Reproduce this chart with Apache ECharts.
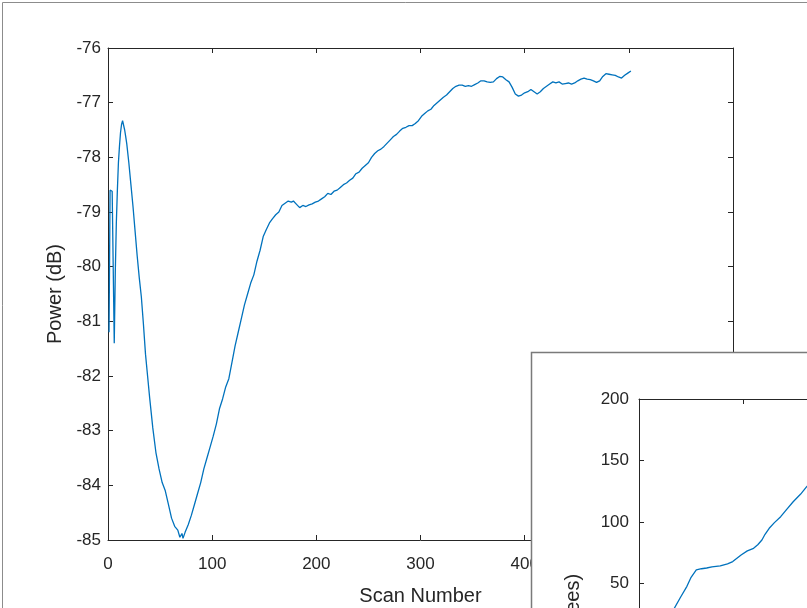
<!DOCTYPE html>
<html>
<head>
<meta charset="utf-8">
<script src="https://cdn.jsdelivr.net/npm/echarts@6/dist/echarts.min.js"></script>
<style>
  html, body { margin: 0; padding: 0; background: #fff; }
  #chart { width: 807px; height: 608px; }
</style>
</head>
<body>
<div id="chart"></div>
<script>
// main figure: received power per scan
const scanNumbers = [
  1, 2, 3, 4, 5, 6, 7, 8, 9, 10, 11, 12, 13, 14, 15, 16, 17, 18, 20, 22, 24, 26, 28, 30, 32, 34, 36, 38, 40,
  43, 46, 49, 52, 55, 58, 61, 64, 67, 69, 71, 72, 74, 77, 80, 83, 86, 89, 92, 95, 98, 101, 104, 107, 110,
  113, 116, 119, 122, 125, 128, 131, 134, 137, 140, 143, 146, 149, 152, 155, 158, 161, 164, 167, 170, 173,
  176, 178, 181, 184, 187, 190, 193, 196, 199, 202, 205, 208, 211, 214, 217, 220, 223, 226, 229, 232, 235,
  238, 241, 244, 247, 250, 253, 256, 259, 262, 265, 268, 271, 274, 277, 280, 283, 286, 289, 292, 295, 298,
  301, 304, 307, 310, 313, 316, 319, 322, 325, 328, 331, 334, 337, 340, 343, 346, 349, 352, 355, 358, 361,
  364, 367, 370, 373, 376, 379, 382, 385, 388, 391, 394, 397, 400, 403, 406, 409, 412, 415, 418, 421, 424,
  427, 430, 433, 436, 439, 442, 445, 448, 451, 454, 457, 460, 463, 466, 469, 472, 475, 478, 481, 484, 487,
  490, 493, 496, 499, 502
];
const powerDb = [
  -81.2, -78.6, -78.6, -78.62, -78.6, -81.4, -80.1, -79.2, -78.6, -78.1, -77.8, -77.55, -77.4, -77.33,
  -77.35, -77.5, -77.62, -77.75, -78.1, -78.5, -78.9, -79.35, -79.8, -80.2, -80.55, -81.05, -81.6, -82.0,
  -82.4, -82.95, -83.4, -83.7, -83.95, -84.1, -84.35, -84.6, -84.75, -84.82, -84.95, -84.88, -84.97,
  -84.86, -84.72, -84.55, -84.35, -84.15, -83.95, -83.7, -83.5, -83.3, -83.1, -82.88, -82.6, -82.42,
  -82.2, -82.05, -81.75, -81.45, -81.2, -80.95, -80.7, -80.5, -80.3, -80.15, -79.9, -79.7, -79.45, -79.32,
  -79.2, -79.12, -79.05, -79.0, -78.88, -78.84, -78.8, -78.82, -78.8, -78.86, -78.92, -78.88, -78.9,
  -78.87, -78.85, -78.82, -78.8, -78.76, -78.72, -78.66, -78.68, -78.62, -78.6, -78.55, -78.5, -78.47,
  -78.42, -78.38, -78.3, -78.27, -78.2, -78.15, -78.1, -78.0, -77.93, -77.88, -77.85, -77.8, -77.74,
  -77.68, -77.62, -77.58, -77.52, -77.47, -77.45, -77.42, -77.42, -77.38, -77.33, -77.25, -77.2, -77.15,
  -77.12, -77.05, -77.0, -76.95, -76.9, -76.86, -76.8, -76.74, -76.7, -76.68, -76.68, -76.7, -76.69,
  -76.7, -76.67, -76.64, -76.6, -76.6, -76.62, -76.63, -76.62, -76.56, -76.52, -76.53, -76.58, -76.62,
  -76.72, -76.84, -76.88, -76.86, -76.82, -76.8, -76.76, -76.8, -76.84, -76.8, -76.74, -76.7, -76.66,
  -76.62, -76.64, -76.62, -76.66, -76.65, -76.64, -76.66, -76.64, -76.6, -76.57, -76.55, -76.57, -76.58,
  -76.6, -76.63, -76.6, -76.52, -76.47, -76.48, -76.49, -76.5, -76.53, -76.55, -76.5, -76.46, -76.42
];

// second figure window (partly visible): angle per scan
const insetScans = [20, 33, 40, 46, 50, 55, 60, 65, 70, 78, 85, 90, 98, 104, 110, 114, 118, 121, 125, 130, 136, 142, 148, 155, 161, 170];
const insetAngle = [10, 28.5, 39, 47.7, 55, 61, 62, 62.6, 63.5, 64.4, 66, 67.8, 73.2, 76.5, 78.6, 81.5, 85.4, 90, 94.9, 99.5, 104.3, 110.5, 116.5, 122.5, 128.7, 136];

const FONT = "'Liberation Sans', Arial, Helvetica, sans-serif";
const INK = '#262626';

const chart = echarts.init(document.getElementById('chart'));

function frameAxis(extra) {
  return Object.assign({
    type: 'value',
    axisLine: { show: true, onZero: false, lineStyle: { color: INK, width: 1 } },
    axisTick: { show: true, inside: true, length: 5, lineStyle: { color: INK } },
    axisLabel: { show: false },
    splitLine: { show: false }
  }, extra);
}

const labelStyle = { show: true, color: INK, fontFamily: FONT, fontSize: 17 };
const nameStyle = { color: INK, fontFamily: FONT, fontSize: 20 };

const option = {
  animation: false,
  backgroundColor: '#fff',
  grid: [
    { left: 108, top: 48, width: 625, height: 492, outerBoundsMode: 'none' },
    { left: 639, top: 399, width: 625, height: 492, outerBoundsMode: 'none' }
  ],
  xAxis: [
    frameAxis({ gridIndex: 0, position: 'bottom', min: 0, max: 600, interval: 100,
      axisLabel: Object.assign({ margin: 16 }, labelStyle),
      name: 'Scan Number', nameLocation: 'middle', nameGap: 46, nameTextStyle: nameStyle }),
    frameAxis({ gridIndex: 0, position: 'top', min: 0, max: 600, interval: 100 }),
    frameAxis({ gridIndex: 1, position: 'bottom', min: 0, max: 600, interval: 100, z: 60,
      axisLabel: Object.assign({ margin: 16 }, labelStyle) }),
    frameAxis({ gridIndex: 1, position: 'top', min: 0, max: 600, interval: 100, z: 60 })
  ],
  yAxis: [
    frameAxis({ gridIndex: 0, position: 'left', min: -85, max: -76, interval: 1,
      axisLabel: Object.assign({ margin: 7 }, labelStyle),
      name: 'Power (dB)', nameLocation: 'middle', nameGap: 40, nameTextStyle: nameStyle }),
    frameAxis({ gridIndex: 0, position: 'right', min: -85, max: -76, interval: 1 }),
    frameAxis({ gridIndex: 1, position: 'left', min: -200, max: 200, interval: 50, z: 60,
      axisLabel: Object.assign({ margin: 10 }, labelStyle),
      name: 'Angle (degrees)', nameLocation: 'middle', nameGap: 56, nameTextStyle: nameStyle }),
    frameAxis({ gridIndex: 1, position: 'right', min: -200, max: 200, interval: 50, z: 60 })
  ],
  graphic: [
    { type: 'rect', z: 1, shape: { x: 2.5, y: 2.5, width: 900, height: 900 },
      style: { fill: 'none', stroke: '#8c8c8c', lineWidth: 1 } },
    { type: 'rect', z: 50, shape: { x: 531.5, y: 352.5, width: 400, height: 400 },
      style: { fill: '#fff', stroke: '#7a7a7a', lineWidth: 1.5 } }
  ],
  series: [
    {
      type: 'line',
      xAxisIndex: 0, yAxisIndex: 0,
      data: scanNumbers.map((s, i) => [s, powerDb[i]]),
      showSymbol: false,
      lineStyle: { color: '#0072BD', width: 1.3 },
      z: 2
    },
    {
      type: 'line',
      xAxisIndex: 2, yAxisIndex: 2,
      data: insetScans.map((s, i) => [s, insetAngle[i]]),
      showSymbol: false,
      lineStyle: { color: '#0072BD', width: 1.3 },
      z: 60
    }
  ]
};

chart.setOption(option);
</script>
</body>
</html>
